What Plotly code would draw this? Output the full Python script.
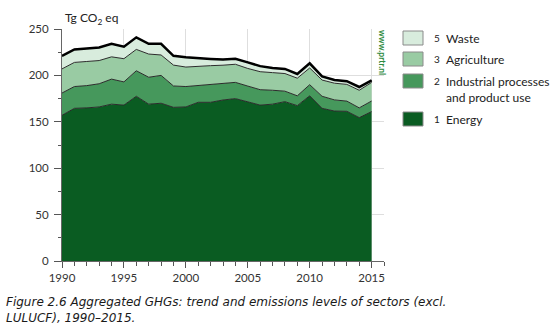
import plotly.graph_objects as go

# Greenhouse gas emissions by sector, Tg CO2 eq
years = list(range(1990, 2016))
energy = [157, 164.5, 165, 166, 169, 168, 177.5, 169, 170, 165.6,
          166, 171, 171, 173.5, 175, 171.7, 168, 169, 171.7, 167.4,
          178, 164.5, 161.6, 161.3, 154.5, 161]
industrial = [24, 23.5, 24, 25, 27, 25, 27.5, 29, 30, 23,
              22, 18, 19, 18, 17.5, 16.8, 16.6, 15, 11.3, 10.6,
              12, 13, 12, 11, 10.5, 11.4]
agriculture = [26, 26, 26, 25, 24, 25, 23, 25, 22, 22.5,
               21, 21, 20.5, 19.5, 19.5, 19, 19.4, 19, 19, 19,
               18, 17.5, 18, 18, 19, 20]
waste = [14, 14, 14, 14, 14, 13, 13, 11, 12, 10,
         10.5, 9, 7.2, 6, 6, 6.5, 6, 5, 5, 4.5,
         5, 4, 3.5, 3.5, 3.5, 2.2]

sectors = [
    ("1", "Energy", energy, "#0a5c22"),
    ("2", "Industrial processes<br>and product use", industrial, "#46985c"),
    ("3", "Agriculture", agriculture, "#99cba3"),
    ("5", "Waste", waste, "#d8ecdd"),
]

total = [e + i + a + w for e, i, a, w in zip(energy, industrial, agriculture, waste)]

W, H = 556, 331
L, R, T, B = 62, 384, 29, 261


def px(x):
    return (x - L) / (R - L)


def py(y):
    return (B - y) / (B - T)


fig = go.Figure()
for num, name, vals, color in sectors:
    fig.add_trace(go.Scatter(
        x=years, y=vals, stackgroup="one", mode="lines",
        line=dict(color="#2b2b2b", width=1), fillcolor=color,
        name=name, showlegend=False, hoverinfo="skip",
    ))

fig.add_trace(go.Scatter(
    x=years, y=total, mode="lines",
    line=dict(color="#000000", width=2.5), showlegend=False, hoverinfo="skip",
))

tick_font = dict(family="Lato, Open Sans, sans-serif", size=11.5, color="#333333")

fig.update_layout(
    width=W, height=H,
    margin=dict(l=L, r=W - R, t=T, b=H - B, pad=0),
    paper_bgcolor="white", plot_bgcolor="white",
    xaxis=dict(
        range=[1990, 2016], tickvals=[1990, 1995, 2000, 2005, 2010, 2015],
        ticks="outside", ticklen=6, tickcolor="#555555", tickwidth=1,
        minor=dict(dtick=1, tick0=1990, ticks="outside", ticklen=4, tickcolor="#555555", showgrid=False),
        showline=True, linecolor="#666666", linewidth=1,
        showgrid=True, gridcolor="#dedede", gridwidth=1,
        zeroline=False, tickfont=tick_font,
    ),
    yaxis=dict(
        range=[0, 250], dtick=50, tick0=0,
        ticks="outside", ticklen=7, tickcolor="#555555", tickwidth=1,
        minor=dict(dtick=25, ticks="outside", ticklen=3, tickcolor="#555555", showgrid=False),
        showline=True, linecolor="#666666", linewidth=1,
        showgrid=True, gridcolor="#dedede", gridwidth=1,
        zeroline=False, tickfont=tick_font, ticklabelstandoff=3,
    ),
)

ann = []
shapes = []

# Unit label
ann.append(dict(x=px(63), y=py(19), xref="paper", yref="paper", xanchor="left", yanchor="middle",
                text="Tg CO<sub>2</sub> eq", showarrow=False,
                font=dict(family="Lato, Open Sans, sans-serif", size=12, color="#222222")))

# Source mark
ann.append(dict(x=px(382), y=py(52), xref="paper", yref="paper", xanchor="center", yanchor="middle",
                text="<b>www.prtr.nl</b>", textangle=90, showarrow=False,
                font=dict(family="Lato, Open Sans, sans-serif", size=8.5, color="#2e8b3e")))

# Legend
legend_rows = [
    ("5", "Waste", "#d8ecdd", 31, 38),
    ("3", "Agriculture", "#99cba3", 52, 59),
    ("2", "Industrial processes", "#46985c", 74, 81),
    ("1", "Energy", "#0a5c22", 112, 119),
]
leg_font = dict(family="Lato, Open Sans, sans-serif", size=12, color="#222222")
for num, label, color, top, mid in legend_rows:
    shapes.append(dict(type="rect", xref="paper", yref="paper",
                       x0=px(403), x1=px(423), y0=py(top), y1=py(top + 14),
                       fillcolor=color, line=dict(color="#8a8a8a", width=1)))
    ann.append(dict(x=px(432), y=py(mid), xref="paper", yref="paper", xanchor="left", yanchor="middle",
                    text=num, showarrow=False, font=dict(leg_font, size=10)))
    ann.append(dict(x=px(444), y=py(mid), xref="paper", yref="paper", xanchor="left", yanchor="middle",
                    text=label, showarrow=False, font=leg_font))
ann.append(dict(x=px(444), y=py(97), xref="paper", yref="paper", xanchor="left", yanchor="middle",
                text="and product use", showarrow=False, font=leg_font))

# Caption
cap_font = dict(family="DejaVu Sans, Verdana, sans-serif", size=12, color="#1a1a1a")
ann.append(dict(x=px(4), y=py(302), xref="paper", yref="paper", xanchor="left", yanchor="middle",
                text="<i>Figure 2.6 Aggregated GHGs: trend and emissions levels of sectors (excl.</i>",
                showarrow=False, font=cap_font))
ann.append(dict(x=px(4), y=py(318), xref="paper", yref="paper", xanchor="left", yanchor="middle",
                text="<i>LULUCF), 1990–2015.</i>", showarrow=False, font=cap_font))

fig.update_layout(annotations=ann, shapes=shapes)

fig.write_html("out.html")
